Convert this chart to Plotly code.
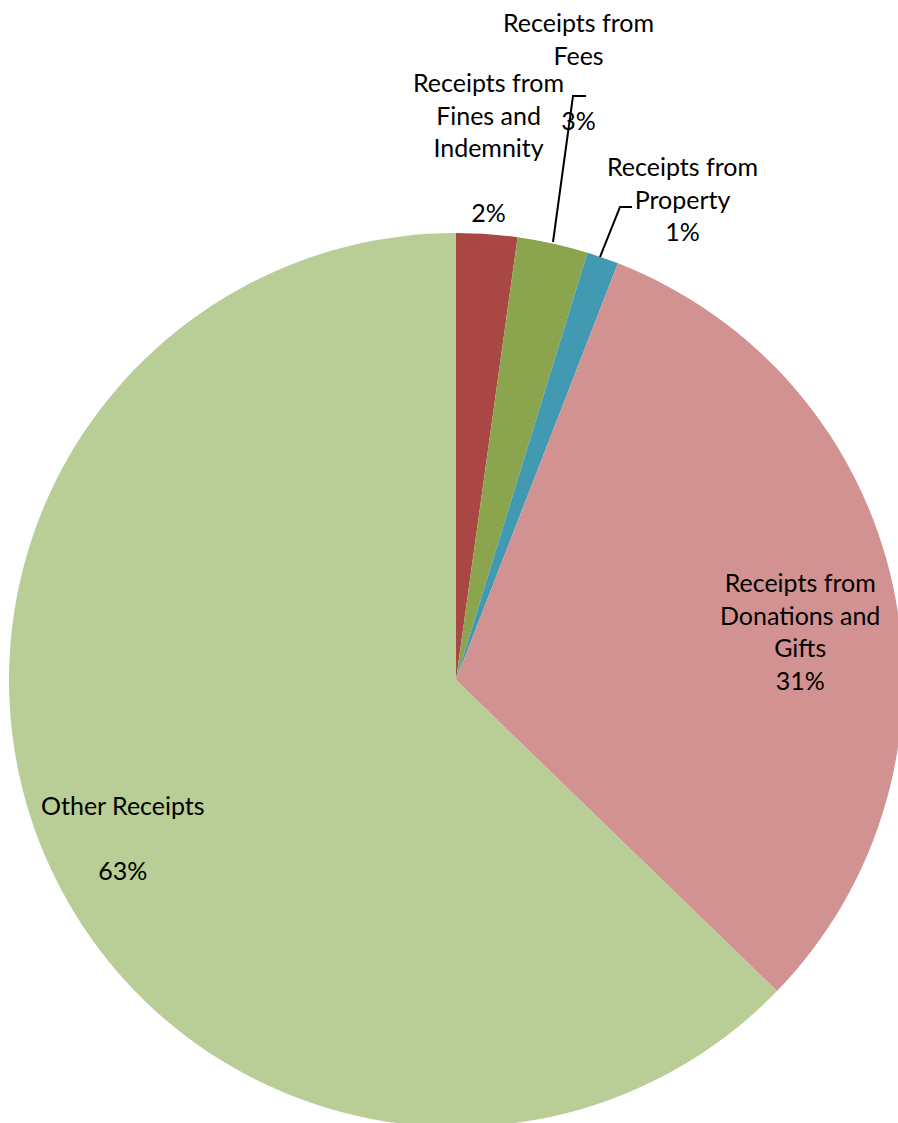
import plotly.graph_objects as go

# ---- data ----
categories = ["Receipts from Fines and Indemnity", "Receipts from Fees",
              "Receipts from Property", "Receipts from Donations and Gifts",
              "Other Receipts"]
values = [2.2, 2.55, 1.15, 31.35, 62.75]
label_lines = [["Receipts from", "Fines and", "Indemnity", ""],
               ["Receipts from", "Fees", ""],
               ["Receipts from", "Property"],
               ["Receipts from", "Donations and", "Gifts"],
               ["Other Receipts", ""]]
colors = ["#A84744", "#8AA54E", "#4299B2", "#D19291", "#B9CD96"]

W, H = 910, 1130
def px(x):
    return x / W
def py(y):
    return 1 - y / H

fig = go.Figure(go.Pie(
    labels=categories, values=values, sort=False, direction="clockwise",
    rotation=0, marker=dict(colors=colors, line=dict(width=0)),
    textinfo="none", hoverinfo="label+percent", showlegend=False,
    domain=dict(x=[px(9), px(903)], y=[py(1127), py(233)]),
))

total = sum(values)
pcts = [f"{round(v / total * 100)}%" for v in values]

# label anchor positions (pixels: center x, center y)
pos = [(488, 147), (578, 71), (682, 199), (800, 631), (123, 837)]
for lines, pct, (x, y) in zip(label_lines, pcts, pos):
    fig.add_annotation(text="<br>".join(lines + [pct]), x=px(x), y=py(y),
                       xref="paper", yref="paper", showarrow=False,
                       xanchor="center", yanchor="middle", align="center",
                       font=dict(family="Lato", size=25, color="#000000"))

# leader lines
leaders = [[(553, 242), (573, 96), (586, 96)],
           [(600, 257), (620, 207), (632, 207)]]
for pts in leaders:
    path = "M " + " L ".join(f"{px(a)},{py(b)}" for a, b in pts)
    fig.add_shape(type="path", path=path, xref="paper", yref="paper",
                  line=dict(color="#000000", width=2))

fig.update_layout(width=W, height=H, margin=dict(l=0, r=0, t=0, b=0),
                  paper_bgcolor="white", plot_bgcolor="white")

fig.write_html("out.html", config={"displayModeBar": False},
               post_script="document.body.style.margin='0';document.body.style.overflow='hidden';")
